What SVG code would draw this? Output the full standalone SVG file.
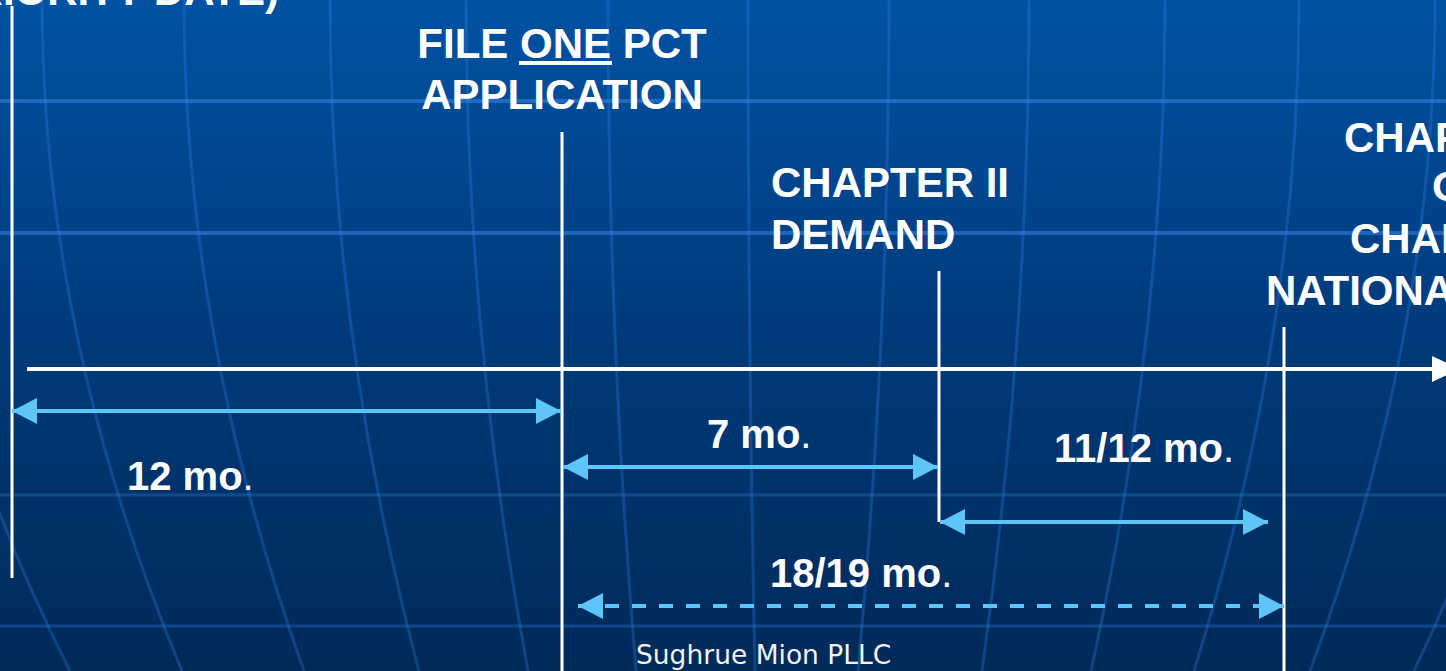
<svg xmlns="http://www.w3.org/2000/svg" width="1446" height="671" viewBox="0 0 1446 671">
  <defs>
    <linearGradient id="bg" x1="0" y1="0" x2="0" y2="1">
      <stop offset="0" stop-color="#0052a3"/>
      <stop offset="0.5" stop-color="#003a7a"/>
      <stop offset="1" stop-color="#002a58"/>
    </linearGradient>
    <marker id="ah" viewBox="0 0 25 26" refX="25" refY="13" markerWidth="25" markerHeight="26" markerUnits="userSpaceOnUse" orient="auto-start-reverse">
      <path d="M0,0 L25,13 L0,26 Z" fill="#5ec5f7"/>
    </marker>
    <style>
      .grid{fill:none;stroke:#2f7fe0;stroke-width:3;opacity:0.32}
      .hgrid{fill:none;stroke:#2f7fe0;stroke-width:4;opacity:0.6}
      .vline{stroke:#ffffff;stroke-width:3;fill:none}
      .lbl{font-family:"Liberation Sans",Arial,sans-serif;font-weight:bold;font-size:42px;fill:#ffffff}
      .dur{font-family:"Liberation Sans",Arial,sans-serif;font-weight:bold;font-size:40px;fill:#ffffff}
      .dot{font-weight:normal}
      .dim{stroke:#5ec5f7;stroke-width:4;fill:none;marker-start:url(#ah);marker-end:url(#ah)}
      .dash{stroke-dasharray:14 13}
      .foot{font-family:"DejaVu Sans",Verdana,sans-serif;font-size:26.5px;fill:#f2f2f2}
    </style>
  </defs>

  <g id="background">
    <rect x="0" y="0" width="1446" height="671" fill="url(#bg)"/>
    <line class="hgrid" x1="0" y1="101" x2="1446" y2="101"/>
    <line class="hgrid" x1="0" y1="233" x2="1446" y2="233"/>
    <line class="grid" x1="0" y1="495" x2="1446" y2="495"/>
    <line class="grid" x1="0" y1="626" x2="1446" y2="626"/>
    <path class="grid" d="M-100,0 Q-100,335 70,671"/>
    <path class="grid" d="M42,0 Q42,335 182,671"/>
    <path class="grid" d="M184,0 Q184,335 304,671"/>
    <path class="grid" d="M330,0 Q330,335 419,671"/>
    <path class="grid" d="M466,0 Q466,335 528,671"/>
    <path class="grid" d="M608,0 Q608,335 636,671"/>
    <path class="grid" d="M748,0 Q748,335 755,671"/>
    <path class="grid" d="M889,0 Q889,335 858,671"/>
    <path class="grid" d="M1029,0 Q1029,335 982,671"/>
    <path class="grid" d="M1165,0 Q1165,335 1091,671"/>
    <path class="grid" d="M1299,0 Q1299,335 1194,671"/>
    <path class="grid" d="M1435,0 Q1435,335 1310,671"/>
    <path class="grid" d="M1575,0 Q1575,335 1414,671"/>
  </g>

  <g id="node-priority">
    <text class="lbl" x="279" y="5" text-anchor="end">(PRIORITY DATE)</text>
    <line class="vline" x1="12" y1="6" x2="12" y2="578"/>
  </g>

  <g id="node-pct">
    <text class="lbl" x="562" y="58" text-anchor="middle">FILE ONE PCT</text>
    <rect x="519" y="61" width="93" height="4" fill="#ffffff"/>
    <text class="lbl" x="562" y="109" text-anchor="middle">APPLICATION</text>
    <line class="vline" x1="562" y1="132" x2="562" y2="671"/>
  </g>

  <g id="node-demand">
    <text class="lbl" x="771" y="197">CHAPTER II</text>
    <text class="lbl" x="771" y="249">DEMAND</text>
    <line class="vline" x1="939" y1="271" x2="939" y2="522"/>
  </g>

  <g id="node-national">
    <text class="lbl" x="1344" y="152">CHAPTER II</text>
    <text class="lbl" x="1432" y="201">OR</text>
    <text class="lbl" x="1350" y="253">CHAPTER I</text>
    <text class="lbl" x="1266" y="305">NATIONAL STAGE</text>
    <line class="vline" x1="1284" y1="327" x2="1284" y2="671"/>
  </g>

  <g id="connectors">
    <line x1="27" y1="369" x2="1440" y2="369" stroke="#ffffff" stroke-width="4"/>
    <polygon points="1432,356 1460,369 1432,382" fill="#ffffff"/>
    <line class="dim" x1="12" y1="411" x2="561" y2="411"/>
    <line class="dim" x1="563" y1="467" x2="938" y2="467"/>
    <line class="dim" x1="940" y1="522" x2="1268" y2="522"/>
    <line class="dim dash" x1="578" y1="606" x2="1284" y2="606"/>
    <text class="dur" x="127" y="490">12 mo<tspan class="dot">.</tspan></text>
    <text class="dur" x="707" y="448">7 mo<tspan class="dot">.</tspan></text>
    <text class="dur" x="1054" y="462">11/12 mo<tspan class="dot">.</tspan></text>
    <text class="dur" x="770" y="587">18/19 mo<tspan class="dot">.</tspan></text>
  </g>

  <g id="footer">
    <text class="foot" x="636" y="664">Sughrue Mion PLLC</text>
  </g>
</svg>
